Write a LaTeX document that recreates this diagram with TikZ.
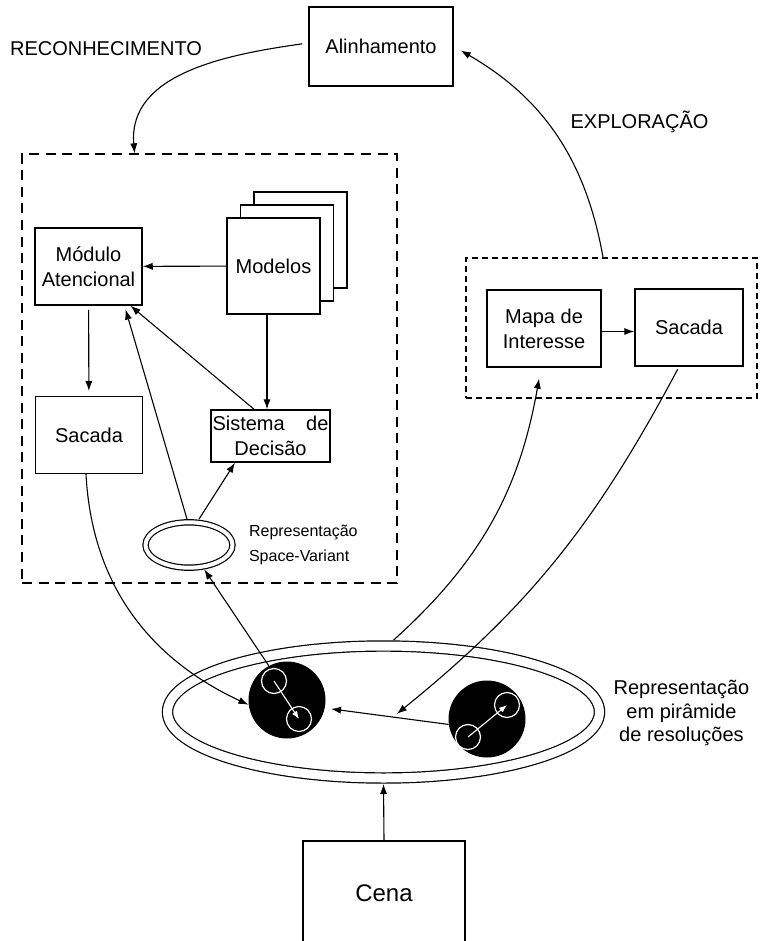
\documentclass[tikz,border=0pt]{standalone}
\usepackage{fontspec}
\setmainfont{Liberation Sans}
\usetikzlibrary{positioning,arrows.meta,calc,shapes.geometric}

\begin{document}
\begin{tikzpicture}[x=0.5pt, y=-0.5pt,
  font=\fontsize{10}{12.5}\selectfont,
  box/.style={draw, line width=0.75pt, align=center, inner sep=1pt, fill=white},
  dashframe/.style={draw, line width=0.65pt, dash pattern=on 5pt off 3.3pt},
  rep/.style={ellipse, draw, double, line width=0.6pt, inner sep=0pt},
  blob/.style={circle, fill=black, inner sep=0pt, minimum size=38.5pt},
  eye/.style={circle, draw=white, line width=0.6pt, inner sep=0pt, minimum size=12.5pt},
  arr/.style={-{Latex[length=5pt,width=3.6pt]}, line width=0.55pt},
  warr/.style={-{Latex[length=4pt,width=3pt]}, line width=0.55pt, white}]
\path[use as bounding box, fill=white] (0,0) rectangle (760,941);
\clip (0,0) rectangle (760,941);

\node[box, minimum width=72pt, minimum height=39.5pt] (aln) at (381,46.5) {Alinhamento};
\node (recon) at (106,49) {RECONHECIMENTO};
\node (explo) at (639.5,122) {EXPLORAÇÃO};

% reconhecimento
\node[dashframe, minimum width=187.5pt, minimum height=214.5pt] (frameL) at (209.5,368.5) {};
\node[box, minimum width=53.5pt, minimum height=38.5pt] (modulo) at (88.5,266.5) {Módulo\\Atencional};
\node[box, minimum width=46.5pt, minimum height=48pt] (mod3) at (300.5,240) {};
\node[box, minimum width=46.5pt, minimum height=48pt] (mod2) at (287,253) {};
\node[box, minimum width=46.5pt, minimum height=48pt] (modelos) at (273.5,266) {Modelos};
\node[box, minimum width=53.3pt, minimum height=38.3pt] (sacL) at (89,435) {Sacada};
\node[box, minimum width=59.5pt, minimum height=26pt, inner sep=0.5pt] (sist) at (270.5,436)
  {\makebox[58pt][s]{Sistema de}\\Decisão};
\node[rep, double distance=2pt, minimum width=43.5pt, minimum height=22.7pt, outer sep=1.6pt] (svrep) at (189,545) {};
\node[anchor=west, align=left, font=\fontsize{8}{12.5}\selectfont] (svlab) at (242,545) {Representação\\Space-Variant};

% exploracao
\node[dashframe, dash pattern=on 3pt off 2pt, line width=0.55pt, minimum width=145.5pt, minimum height=70pt] (frameR) at (611.5,328) {};
\node[box, minimum width=57pt, minimum height=38.5pt] (mapa) at (544,328.5) {Mapa de\\Interesse};
\node[box, minimum width=54pt, minimum height=38.5pt] (sacR) at (689,327.5) {Sacada};

% piramide
\node[rep, double distance=4.5pt, minimum width=216pt, minimum height=66pt, outer sep=3pt] (piram) at (383.5,712) {};
\node[blob] (blobL) at (287,700) {};
\node[eye] (eL1) at (274,681) {};
\node[eye] (eL2) at (299,719) {};
\node[blob] (blobR) at (487,719) {};
\node[eye] (eR1) at (468,737) {};
\node[eye] (eR2) at (507,705) {};
\node[align=center, font=\fontsize{10}{11.75}\selectfont] (pirlab) at (681.5,713) {Representação\\em pirâmide\\de resoluções};
\node[box, minimum width=81pt, minimum height=52pt, anchor=north, font=\fontsize{12}{14}\selectfont] (cena) at (384,840) {Cena};

\draw[arr, shorten <=3pt] ([yshift=1.75pt]aln.west) to[out=188, in=95] ($(frameL.north west)!0.301!(frameL.north east)$);
\draw[arr, shorten >=4pt] ($(frameR.north west)!0.471!(frameR.north east)$) to[out=100, in=-30] (aln.east);
\draw[arr] (modelos) -- (modulo);
\draw[arr, shorten <=2pt, shorten >=2.5pt] (modulo) -- (sacL);
\draw[arr] ([xshift=-3.25pt]modelos.south) -- ([xshift=-3.25pt]modelos.south |- sist.north);
\draw[arr] ([xshift=-8.25pt]sist.north) -- ([xshift=21pt]modulo.south);
\draw[arr, shorten >=2pt] ([xshift=-1pt]svrep.north) -- ([xshift=18pt]modulo.south);
\draw[arr] ([xshift=5pt]svrep.north) -- ([xshift=-17.75pt]sist.south);
\draw[arr] (blobL.118) -- (svrep.-58);
\draw[arr] ([xshift=-1.5pt]sacL.south) to[out=-87, in=155] (blobL.187);
\draw[arr, shorten >=3pt] (blobR.188) -- coordinate[pos=0.45] (mv) (blobL.-12);
\draw[arr, shorten <=1.5pt, shorten >=2.5pt] ([xshift=-5pt]sacR.south) to[out=-118, in=39] (mv);
\draw[arr, shorten >=5.5pt] (piram.82) to[out=42, in=-100] ([xshift=-1.5pt]mapa.south);
\draw[arr] ([yshift=-1.5pt]mapa.east) -- ([yshift=-1.5pt]mapa.east -| sacR.west);
\draw[arr] (cena.north) -- (piram.south);
\draw[warr] (eL1.center) -- (eL2.center);
\draw[warr] (eR1.center) -- (eR2.center);
\end{tikzpicture}
\end{document}
